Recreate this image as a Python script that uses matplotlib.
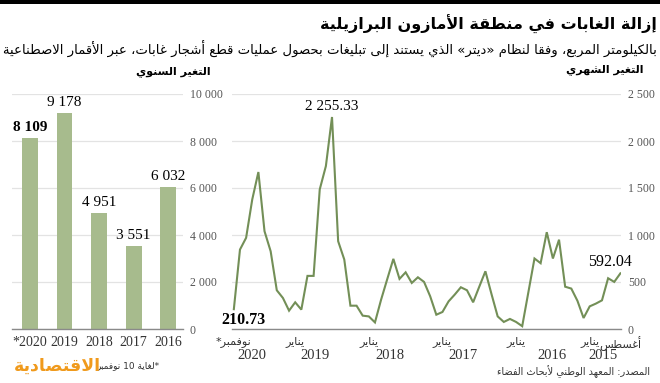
import re
import pandas as pd
import matplotlib
matplotlib.use('Agg')
import matplotlib.pyplot as plt
from matplotlib.ticker import FuncFormatter
import matplotlib.transforms as mtransforms

# annual deforestation (km2), left to right as drawn
years = ['*2020', '2019', '2018', '2017', '2016']
annual = [8109, 9178, 4951, 3551, 6032]

# monthly deforestation (km2), Aug 2015 .. Nov 2020
monthly = [592.04, 501, 540, 305, 270, 241, 117, 300, 430, 450,
           950, 750, 1030, 700, 750, 390, 30, 75, 107, 75,
           134, 370, 614, 450, 284, 412, 444, 366, 294, 181,
           152, 348, 501, 550, 490, 603, 533, 746, 530, 312,
           70, 134, 142, 248, 248, 739, 934, 2255.33, 1733, 1485,
           565, 565, 206, 284, 195, 330, 412, 827, 1040, 1670,
           1378, 970, 845, 210.73]
months = pd.date_range('2015-08-01', periods=len(monthly), freq='MS')
line_years = ['2015', '2016', '2017', '2018', '2019', '2020']

title = 'إزالة الغابات في منطقة الأمازون البرازيلية'
subtitle = 'بالكيلومتر المربع، وفقا لنظام «ديتر» الذي يستند إلى تبليغات بحصول عمليات قطع أشجار غابات، عبر الأقمار الاصطناعية'
annual_lbl = 'التغير السنوي'
monthly_lbl = 'التغير الشهري'
jan_lbl, aug_lbl, nov_lbl = 'يناير', 'أغسطس', 'نوفمبر*'
note = '*لغاية 10 نوفمبر'
source = 'المصدر: المعهد الوطني لأبحاث الفضاء'
logo = 'الاقتصادية'

# --- arabic shaping (matplotlib does no joining / bidi) ---
_tab = [('ء', 0xFE80, 1), ('آ', 0xFE81, 2), ('أ', 0xFE83, 2), ('ؤ', 0xFE85, 2),
        ('إ', 0xFE87, 2), ('ئ', 0xFE89, 4), ('ا', 0xFE8D, 2), ('ب', 0xFE8F, 4),
        ('ة', 0xFE93, 2), ('ت', 0xFE95, 4), ('ث', 0xFE99, 4), ('ج', 0xFE9D, 4),
        ('ح', 0xFEA1, 4), ('خ', 0xFEA5, 4), ('د', 0xFEA9, 2), ('ذ', 0xFEAB, 2),
        ('ر', 0xFEAD, 2), ('ز', 0xFEAF, 2), ('س', 0xFEB1, 4), ('ش', 0xFEB5, 4),
        ('ص', 0xFEB9, 4), ('ض', 0xFEBD, 4), ('ط', 0xFEC1, 4), ('ظ', 0xFEC5, 4),
        ('ع', 0xFEC9, 4), ('غ', 0xFECD, 4), ('ف', 0xFED1, 4), ('ق', 0xFED5, 4),
        ('ك', 0xFED9, 4), ('ل', 0xFEDD, 4), ('م', 0xFEE1, 4), ('ن', 0xFEE5, 4),
        ('ه', 0xFEE9, 4), ('و', 0xFEED, 2), ('ى', 0xFEEF, 2), ('ي', 0xFEF1, 4)]
FORMS = {c: (b, n) for c, b, n in _tab}
LAMALEF = {'آ': 0xFEF5, 'أ': 0xFEF7, 'إ': 0xFEF9, 'ا': 0xFEFB}


def ar(s):
    ch = list(s)
    res = []
    k = 0
    while k < len(ch):
        c = ch[k]
        if c not in FORMS:
            res.append(c)
            k += 1
            continue
        # previous letter joins forward? (lam-alef ligature never does)
        prev = (k > 0 and ch[k-1] in FORMS and FORMS[ch[k-1]][1] == 4
                and not (k > 1 and ch[k-2] == 'ل' and ch[k-1] in LAMALEF))
        if c == 'ل' and k + 1 < len(ch) and ch[k+1] in LAMALEF:
            res.append(chr(LAMALEF[ch[k+1]] + (1 if prev else 0)))
            k += 2
            continue
        base, n = FORMS[c]
        nxt = n == 4 and k + 1 < len(ch) and ch[k+1] in FORMS
        if n == 1:
            f = 0
        elif n == 2:
            f = 1 if prev else 0
        else:
            f = [[0, 2], [1, 3]][prev][nxt]
        res.append(chr(base + f))
        k += 1
    vis = ''.join(res)[::-1]
    vis = re.sub(r'[0-9][0-9 .]*[0-9]|[0-9]', lambda m: m.group(0)[::-1], vis)
    return vis.translate(str.maketrans('«»()', '»«)('))


AR = ['DejaVu Sans']
NUM = ['Liberation Serif', 'DejaVu Serif']
bar_c = '#a7bb8d'
line_c = '#738f57'
grid_c = '#e3e3e3'
tick_c = '#555555'

W, H = 660, 383
fig = plt.figure(figsize=(W / 100, H / 100), dpi=100)


def fx(px):
    return px / W


def fy(py):
    return 1 - py / H


fmt = FuncFormatter(lambda v, p: f'{int(v):,}'.replace(',', ' '))

# ---- annual bars ----
ax1 = fig.add_axes([fx(12), fy(329), fx(183) - fx(12), fy(94) - fy(329)])
x = list(range(len(years)))
ax1.bar(x, annual, width=0.46, color=bar_c, zorder=2)
ax1.set_xlim(-0.52, 4.43)
ax1.set_ylim(0, 10000)
ax1.set_yticks(range(0, 10001, 2000))
ax1.yaxis.set_major_formatter(fmt)
ax1.yaxis.tick_right()
ax1.set_xticks(x)
ax1.set_xticklabels(years, fontfamily=NUM, fontsize=10, color='#333333')
for i, v in enumerate(annual):
    bold = i == 0
    ax1.text(i, v + 170, f'{v:,}'.replace(',', ' '), ha='center', va='bottom',
             fontfamily=NUM, fontsize=11, fontweight='bold' if bold else 'normal')

# ---- monthly line ----
ax2 = fig.add_axes([fx(232), fy(329), fx(621) - fx(232), fy(94) - fy(329)])
idx = list(range(len(monthly)))
ax2.plot(idx, monthly, color=line_c, lw=1.5, zorder=3, solid_joinstyle='miter')
ax2.set_xlim(63.3, -0.1)
ax2.set_ylim(0, 2500)
ax2.set_yticks(range(0, 2501, 500))
ax2.yaxis.set_major_formatter(fmt)
ax2.yaxis.tick_right()
ticks = [0] + [i for i, m in enumerate(months) if m.month == 1] + [len(monthly) - 1]
labels = [ar(aug_lbl)] + [ar(jan_lbl)] * (len(ticks) - 2) + [ar(nov_lbl)]
ax2.set_xticks(ticks)
ax2.set_xticklabels(labels, fontfamily=AR, fontsize=8, color='#333333')

year_pos = [2.9, 11.1, 25.7, 37.6, 49.8, 60.1]
trans = mtransforms.blended_transform_factory(ax2.transData, ax2.transAxes)
for yr, p in zip(line_years, year_pos):
    ax2.text(p, -0.112, yr, transform=trans, ha='center', va='center',
             fontfamily=NUM, fontsize=10.5, color='#333333')

ax2.text(47.07, 2300, '2 255.33', ha='center', va='bottom', fontfamily=NUM, fontsize=11)
ax2.text(65.1, 100, f'{monthly[-1]:.2f}', ha='left', va='center', fontfamily=NUM,
         fontsize=11.5, fontweight='bold', clip_on=False)
ax2.text(-1.95, 717, f'{monthly[0]:.2f}', ha='right', va='center', fontfamily=NUM,
         fontsize=11.5, clip_on=False)

for ax in (ax1, ax2):
    for s in ('top', 'left', 'right'):
        ax.spines[s].set_visible(False)
    ax.spines['bottom'].set_color('#8a8a8a')
    ax.spines['bottom'].set_linewidth(1)
    ax.grid(axis='y', color=grid_c, lw=0.9, zorder=0)
    ax.set_axisbelow(True)
    ax.tick_params(axis='y', length=0, pad=5, labelsize=8.5, labelcolor=tick_c)
    ax.tick_params(axis='x', length=0, pad=5)
    for t in ax.get_yticklabels():
        t.set_fontfamily(NUM)

# ---- texts ----
fig.add_artist(plt.Rectangle((0, fy(3.5)), 1, 3.5 / H, transform=fig.transFigure,
                             color='black', lw=0))
fig.text(fx(657), fy(24), ar(title), ha='right', va='center', fontfamily=AR,
         fontsize=11.5, fontweight='bold')
fig.text(fx(657), fy(49), ar(subtitle), ha='right', va='center', fontfamily=AR,
         fontsize=9.5)
fig.text(fx(211), fy(72), ar(annual_lbl), ha='right', va='center', fontfamily=AR,
         fontsize=8, fontweight='bold')
fig.text(fx(643), fy(70), ar(monthly_lbl), ha='right', va='center', fontfamily=AR,
         fontsize=8, fontweight='bold')
fig.text(fx(160), fy(366), ar(note), ha='right', va='center', fontfamily=AR,
         fontsize=6.5, color='#333333')
fig.text(fx(650), fy(372), ar(source), ha='right', va='center', fontfamily=AR,
         fontsize=7, color='#333333')
fig.text(fx(14), fy(366), ar(logo), ha='left', va='center', fontfamily=AR,
         fontsize=12.5, fontweight='bold', color='#f09a1c')

fig.savefig('out.png', dpi=100)
